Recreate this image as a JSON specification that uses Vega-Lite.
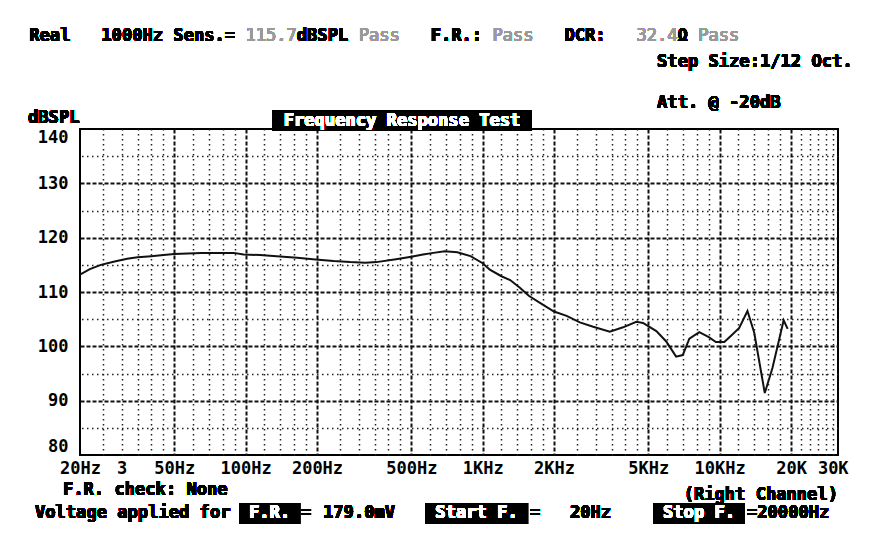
{
  "$schema": "https://vega.github.io/schema/vega-lite/v6.json",
  "autosize": {"type": "none"},
  "padding": {"left": 80, "top": 129, "right": 42, "bottom": 82},
  "width": 758,
  "height": 326,
  "background": "white",
  "view": {"stroke": "black", "strokeWidth": 2},
  "config": {
    "text": {"font": "DejaVu Sans Mono", "fontSize": 17.1, "fontWeight": "bold", "color": "black", "align": "left", "baseline": "alphabetic"}
  },
  "data": {
    "values": [
      {"freq": 20, "spl": 113.2}, {"freq": 22, "spl": 114.2}, {"freq": 24.5, "spl": 115.0},
      {"freq": 28, "spl": 115.6}, {"freq": 31.6, "spl": 116.1}, {"freq": 35, "spl": 116.4},
      {"freq": 40, "spl": 116.6}, {"freq": 45, "spl": 116.8}, {"freq": 50, "spl": 117.0},
      {"freq": 57, "spl": 117.1}, {"freq": 65, "spl": 117.2}, {"freq": 75, "spl": 117.2},
      {"freq": 89, "spl": 117.2}, {"freq": 98, "spl": 116.9}, {"freq": 115, "spl": 116.8},
      {"freq": 135, "spl": 116.6}, {"freq": 165, "spl": 116.3}, {"freq": 197, "spl": 116.0},
      {"freq": 235, "spl": 115.7}, {"freq": 276, "spl": 115.5}, {"freq": 320, "spl": 115.4},
      {"freq": 356, "spl": 115.5}, {"freq": 424, "spl": 116.0}, {"freq": 500, "spl": 116.5},
      {"freq": 560, "spl": 116.9}, {"freq": 620, "spl": 117.2}, {"freq": 692, "spl": 117.5},
      {"freq": 782, "spl": 117.3}, {"freq": 889, "spl": 116.6}, {"freq": 1000, "spl": 115.3},
      {"freq": 1072, "spl": 114.1}, {"freq": 1200, "spl": 112.9}, {"freq": 1306, "spl": 112.2},
      {"freq": 1436, "spl": 110.8}, {"freq": 1565, "spl": 109.3}, {"freq": 1745, "spl": 108.0},
      {"freq": 2000, "spl": 106.4}, {"freq": 2261, "spl": 105.6}, {"freq": 2571, "spl": 104.4},
      {"freq": 2926, "spl": 103.6}, {"freq": 3439, "spl": 102.7}, {"freq": 3912, "spl": 103.5},
      {"freq": 4450, "spl": 104.5}, {"freq": 4750, "spl": 104.3}, {"freq": 5404, "spl": 102.8},
      {"freq": 5950, "spl": 100.9}, {"freq": 6550, "spl": 98.1}, {"freq": 6985, "spl": 98.4},
      {"freq": 7450, "spl": 101.4}, {"freq": 8200, "spl": 102.6}, {"freq": 9000, "spl": 101.7},
      {"freq": 9640, "spl": 100.8}, {"freq": 10460, "spl": 100.8}, {"freq": 11200, "spl": 102.0},
      {"freq": 12090, "spl": 103.4}, {"freq": 13100, "spl": 106.5}, {"freq": 13990, "spl": 102.5},
      {"freq": 15500, "spl": 91.4}, {"freq": 16700, "spl": 96.0}, {"freq": 18620, "spl": 104.8},
      {"freq": 19360, "spl": 103.2}
    ]
  },
  "resolve": {"scale": {"x": "shared", "y": "shared"}, "axis": {"x": "independent", "y": "independent"}},
  "layer": [
    {
      "mark": {"type": "line", "strokeOpacity": 0},
      "encoding": {
        "x": {"field": "freq", "type": "quantitative",
          "scale": {"type": "log", "domain": [20, 31570], "nice": false},
          "axis": {"orient": "top", "title": null, "labels": false, "ticks": false, "domain": false,
            "grid": true, "gridColor": "#222", "gridWidth": 1.5, "gridDash": [1.5, 3.5],
            "values": [25, 30, 35, 40, 45, 60, 70, 80, 90, 120, 140, 160, 180, 250, 300, 350, 400, 450, 600, 700, 800, 900, 1200, 1400, 1600, 1800, 2500, 3000, 3500, 4000, 4500, 6000, 7000, 8000, 9000, 12000, 14000, 16000, 18000, 22000, 24000, 26000, 28000, 30000]}},
        "y": {"field": "spl", "type": "quantitative",
          "scale": {"domain": [80, 140], "nice": false, "zero": false},
          "axis": {"orient": "right", "title": null, "labels": false, "ticks": false, "domain": false,
            "grid": true, "gridColor": "#222", "gridWidth": 1.5, "gridDash": [1.5, 3.5],
            "values": [85, 95, 105, 115, 125, 135]}}
      }
    },
    {
      "mark": {"type": "line", "color": "#111", "strokeWidth": 2},
      "encoding": {
        "x": {"field": "freq", "type": "quantitative",
          "scale": {"type": "log", "domain": [20, 31570], "nice": false},
          "axis": {"orient": "bottom", "title": null, "ticks": false, "domain": false,
            "grid": true, "gridColor": "#111", "gridWidth": 2, "gridDash": [4, 2],
            "gridOpacity": {"condition": {"test": "datum.value == 20 || datum.value == 30 || datum.value == 30000", "value": 0}, "value": 1},
            "values": [20, 30, 50, 100, 200, 500, 1000, 2000, 5000, 10000, 20000, 30000],
            "labelExpr": "datum.value == 20 ? '20Hz' : datum.value == 30 ? '3' : datum.value == 50 ? '50Hz' : datum.value == 100 ? '100Hz' : datum.value == 200 ? '200Hz' : datum.value == 500 ? '500Hz' : datum.value == 1000 ? '1KHz' : datum.value == 2000 ? '2KHz' : datum.value == 5000 ? '5KHz' : datum.value == 10000 ? '10KHz' : datum.value == 20000 ? '20K' : '30K'",
            "labelFont": "DejaVu Sans Mono", "labelFontSize": 17, "labelFontWeight": "bold", "labelColor": "black",
            "labelPadding": 5, "labelOverlap": false, "labelBound": false, "labelFlush": false}},
        "y": {"field": "spl", "type": "quantitative",
          "scale": {"domain": [80, 140], "nice": false, "zero": false},
          "axis": {"orient": "left", "title": null, "ticks": false, "domain": false,
            "grid": true, "gridColor": "#111", "gridWidth": 2, "gridDash": [4, 2],
            "gridOpacity": {"condition": {"test": "datum.value == 80 || datum.value == 140", "value": 0}, "value": 1},
            "values": [80, 90, 100, 110, 120, 130, 140],
            "labelFont": "DejaVu Sans Mono", "labelFontSize": 17, "labelFontWeight": "bold", "labelColor": "black",
            "labelPadding": 12, "labelFlush": true, "labelOverlap": false}}
      }
    },
    {"mark": {"type": "text", "text": "Real"},
      "encoding": {"x": {"datum": 12.22, "type": "quantitative", "scale": {"type": "log", "domain": [20, 31570], "nice": false}, "axis": null},
        "y": {"datum": 156.2, "type": "quantitative", "scale": {"domain": [80, 140], "nice": false, "zero": false}, "axis": null}}},
    {"mark": {"type": "text", "text": "1000Hz Sens.="},
      "encoding": {"x": {"datum": 24.6, "type": "quantitative", "scale": {"type": "log", "domain": [20, 31570], "nice": false}, "axis": null},
        "y": {"datum": 156.2, "type": "quantitative", "scale": {"domain": [80, 140], "nice": false, "zero": false}, "axis": null}}},
    {"mark": {"type": "text", "fontWeight": "normal", "color": "#9a9a9a", "text": "115.7"},
      "encoding": {"x": {"datum": 99.75, "type": "quantitative", "scale": {"type": "log", "domain": [20, 31570], "nice": false}, "axis": null},
        "y": {"datum": 156.2, "type": "quantitative", "scale": {"domain": [80, 140], "nice": false, "zero": false}, "axis": null}}},
    {"mark": {"type": "text", "text": "dBSPL"},
      "encoding": {"x": {"datum": 164.3, "type": "quantitative", "scale": {"type": "log", "domain": [20, 31570], "nice": false}, "axis": null},
        "y": {"datum": 156.2, "type": "quantitative", "scale": {"domain": [80, 140], "nice": false, "zero": false}, "axis": null}}},
    {"mark": {"type": "text", "fontWeight": "normal", "color": "#9a9a9a", "text": "Pass"},
      "encoding": {"x": {"datum": 299.7, "type": "quantitative", "scale": {"type": "log", "domain": [20, 31570], "nice": false}, "axis": null},
        "y": {"datum": 156.2, "type": "quantitative", "scale": {"domain": [80, 140], "nice": false, "zero": false}, "axis": null}}},
    {"mark": {"type": "text", "text": "F.R.:"},
      "encoding": {"x": {"datum": 603.3, "type": "quantitative", "scale": {"type": "log", "domain": [20, 31570], "nice": false}, "axis": null},
        "y": {"datum": 156.2, "type": "quantitative", "scale": {"domain": [80, 140], "nice": false, "zero": false}, "axis": null}}},
    {"mark": {"type": "text", "fontWeight": "normal", "color": "#9a9a9a", "text": "Pass"},
      "encoding": {"x": {"datum": 1099.3, "type": "quantitative", "scale": {"type": "log", "domain": [20, 31570], "nice": false}, "axis": null},
        "y": {"datum": 156.2, "type": "quantitative", "scale": {"domain": [80, 140], "nice": false, "zero": false}, "axis": null}}},
    {"mark": {"type": "text", "text": "DCR:"},
      "encoding": {"x": {"datum": 2212.8, "type": "quantitative", "scale": {"type": "log", "domain": [20, 31570], "nice": false}, "axis": null},
        "y": {"datum": 156.2, "type": "quantitative", "scale": {"domain": [80, 140], "nice": false, "zero": false}, "axis": null}}},
    {"mark": {"type": "text", "fontWeight": "normal", "color": "#9a9a9a", "text": "32.4"},
      "encoding": {"x": {"datum": 4453.4, "type": "quantitative", "scale": {"type": "log", "domain": [20, 31570], "nice": false}, "axis": null},
        "y": {"datum": 156.2, "type": "quantitative", "scale": {"domain": [80, 140], "nice": false, "zero": false}, "axis": null}}},
    {"mark": {"type": "text", "text": "Ω"},
      "encoding": {"x": {"datum": 6645.8, "type": "quantitative", "scale": {"type": "log", "domain": [20, 31570], "nice": false}, "axis": null},
        "y": {"datum": 156.2, "type": "quantitative", "scale": {"domain": [80, 140], "nice": false, "zero": false}, "axis": null}}},
    {"mark": {"type": "text", "fontWeight": "normal", "color": "#9a9a9a", "text": "Pass"},
      "encoding": {"x": {"datum": 8118.8, "type": "quantitative", "scale": {"type": "log", "domain": [20, 31570], "nice": false}, "axis": null},
        "y": {"datum": 156.2, "type": "quantitative", "scale": {"domain": [80, 140], "nice": false, "zero": false}, "axis": null}}},
    {"mark": {"type": "text", "text": "Step Size:1/12 Oct."},
      "encoding": {"x": {"datum": 5442, "type": "quantitative", "scale": {"type": "log", "domain": [20, 31570], "nice": false}, "axis": null},
        "y": {"datum": 151.41, "type": "quantitative", "scale": {"domain": [80, 140], "nice": false, "zero": false}, "axis": null}}},
    {"mark": {"type": "text", "text": "Att. @ -20dB"},
      "encoding": {"x": {"datum": 5442, "type": "quantitative", "scale": {"type": "log", "domain": [20, 31570], "nice": false}, "axis": null},
        "y": {"datum": 143.87, "type": "quantitative", "scale": {"domain": [80, 140], "nice": false, "zero": false}, "axis": null}}},
    {"mark": {"type": "text", "text": "dBSPL"},
      "encoding": {"x": {"datum": 12.07, "type": "quantitative", "scale": {"type": "log", "domain": [20, 31570], "nice": false}, "axis": null},
        "y": {"datum": 141.1, "type": "quantitative", "scale": {"domain": [80, 140], "nice": false, "zero": false}, "axis": null}}},
    {"mark": {"type": "rect", "color": "black"},
      "encoding": {"x": {"datum": 129.2, "type": "quantitative", "scale": {"type": "log", "domain": [20, 31570], "nice": false}, "axis": null},
        "x2": {"datum": 1615},
        "y": {"datum": 139.63, "type": "quantitative", "scale": {"domain": [80, 140], "nice": false, "zero": false}, "axis": null},
        "y2": {"datum": 143.5}}},
    {"mark": {"type": "text", "color": "white", "align": "center", "text": "Frequency Response Test"},
      "encoding": {"x": {"datum": 456.8, "type": "quantitative", "scale": {"type": "log", "domain": [20, 31570], "nice": false}, "axis": null},
        "y": {"datum": 140.55, "type": "quantitative", "scale": {"domain": [80, 140], "nice": false, "zero": false}, "axis": null}}},
    {"mark": {"type": "text", "text": "F.R. check: None"},
      "encoding": {"x": {"datum": 16.95, "type": "quantitative", "scale": {"type": "log", "domain": [20, 31570], "nice": false}, "axis": null},
        "y": {"datum": 72.64, "type": "quantitative", "scale": {"domain": [80, 140], "nice": false, "zero": false}, "axis": null}}},
    {"mark": {"type": "text", "align": "right", "text": "(Right Channel)"},
      "encoding": {"x": {"datum": 31570, "type": "quantitative", "scale": {"type": "log", "domain": [20, 31570], "nice": false}, "axis": null},
        "y": {"datum": 71.72, "type": "quantitative", "scale": {"domain": [80, 140], "nice": false, "zero": false}, "axis": null}}},
    {"mark": {"type": "text", "text": "Voltage applied for"},
      "encoding": {"x": {"datum": 12.91, "type": "quantitative", "scale": {"type": "log", "domain": [20, 31570], "nice": false}, "axis": null},
        "y": {"datum": 68.4, "type": "quantitative", "scale": {"domain": [80, 140], "nice": false, "zero": false}, "axis": null}}},
    {"mark": {"type": "rect", "color": "black"},
      "encoding": {"x": {"datum": 93.76, "type": "quantitative", "scale": {"type": "log", "domain": [20, 31570], "nice": false}, "axis": null},
        "x2": {"datum": 169.6},
        "y": {"datum": 67.3, "type": "quantitative", "scale": {"domain": [80, 140], "nice": false, "zero": false}, "axis": null},
        "y2": {"datum": 71.17}}},
    {"mark": {"type": "rect", "color": "black"},
      "encoding": {"x": {"datum": 571.2, "type": "quantitative", "scale": {"type": "log", "domain": [20, 31570], "nice": false}, "axis": null},
        "x2": {"datum": 1553.6},
        "y": {"datum": 67.3, "type": "quantitative", "scale": {"domain": [80, 140], "nice": false, "zero": false}, "axis": null},
        "y2": {"datum": 71.17}}},
    {"mark": {"type": "rect", "color": "black"},
      "encoding": {"x": {"datum": 5234, "type": "quantitative", "scale": {"type": "log", "domain": [20, 31570], "nice": false}, "axis": null},
        "x2": {"datum": 12788},
        "y": {"datum": 67.3, "type": "quantitative", "scale": {"domain": [80, 140], "nice": false, "zero": false}, "axis": null},
        "y2": {"datum": 71.17}}},
    {"mark": {"type": "text", "color": "white", "align": "center", "text": "F.R."},
      "encoding": {"x": {"datum": 126.1, "type": "quantitative", "scale": {"type": "log", "domain": [20, 31570], "nice": false}, "axis": null},
        "y": {"datum": 68.4, "type": "quantitative", "scale": {"domain": [80, 140], "nice": false, "zero": false}, "axis": null}}},
    {"mark": {"type": "text", "color": "white", "align": "center", "text": "Start F."},
      "encoding": {"x": {"datum": 942, "type": "quantitative", "scale": {"type": "log", "domain": [20, 31570], "nice": false}, "axis": null},
        "y": {"datum": 68.4, "type": "quantitative", "scale": {"domain": [80, 140], "nice": false, "zero": false}, "axis": null}}},
    {"mark": {"type": "text", "color": "white", "align": "center", "text": "Stop F."},
      "encoding": {"x": {"datum": 8184, "type": "quantitative", "scale": {"type": "log", "domain": [20, 31570], "nice": false}, "axis": null},
        "y": {"datum": 68.4, "type": "quantitative", "scale": {"domain": [80, 140], "nice": false, "zero": false}, "axis": null}}},
    {"mark": {"type": "text", "text": "="},
      "encoding": {"x": {"datum": 171.2, "type": "quantitative", "scale": {"type": "log", "domain": [20, 31570], "nice": false}, "axis": null},
        "y": {"datum": 68.4, "type": "quantitative", "scale": {"domain": [80, 140], "nice": false, "zero": false}, "axis": null}}},
    {"mark": {"type": "text", "text": "179.0mV"},
      "encoding": {"x": {"datum": 212, "type": "quantitative", "scale": {"type": "log", "domain": [20, 31570], "nice": false}, "axis": null},
        "y": {"datum": 68.4, "type": "quantitative", "scale": {"domain": [80, 140], "nice": false, "zero": false}, "axis": null}}},
    {"mark": {"type": "text", "text": "="},
      "encoding": {"x": {"datum": 1584, "type": "quantitative", "scale": {"type": "log", "domain": [20, 31570], "nice": false}, "axis": null},
        "y": {"datum": 68.4, "type": "quantitative", "scale": {"domain": [80, 140], "nice": false, "zero": false}, "axis": null}}},
    {"mark": {"type": "text", "text": "20Hz"},
      "encoding": {"x": {"datum": 2336, "type": "quantitative", "scale": {"type": "log", "domain": [20, 31570], "nice": false}, "axis": null},
        "y": {"datum": 68.4, "type": "quantitative", "scale": {"domain": [80, 140], "nice": false, "zero": false}, "axis": null}}},
    {"mark": {"type": "text", "text": "=20000Hz"},
      "encoding": {"x": {"datum": 13040, "type": "quantitative", "scale": {"type": "log", "domain": [20, 31570], "nice": false}, "axis": null},
        "y": {"datum": 68.4, "type": "quantitative", "scale": {"domain": [80, 140], "nice": false, "zero": false}, "axis": null}}}
  ]
}
